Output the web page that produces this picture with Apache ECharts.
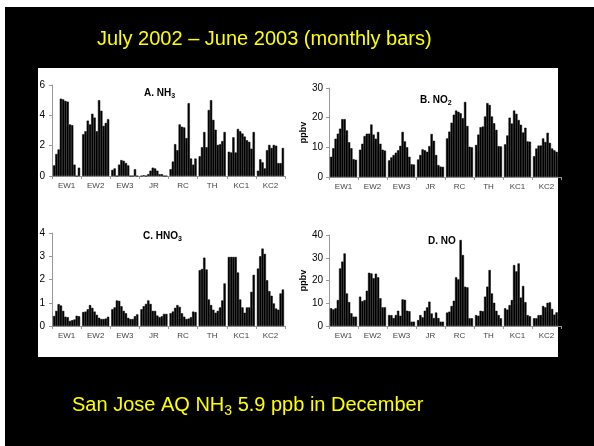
<!DOCTYPE html>
<html>
<head>
<meta charset="utf-8">
<script src="https://cdn.jsdelivr.net/npm/echarts@6/dist/echarts.min.js"></script>
<style>
html, body { margin: 0; padding: 0; background: #fff; }
#chart { width: 594px; height: 446px; }
</style>
</head>
<body>
<div id="chart"></div>
<script>
// sites on the x axis, 12 monthly bars each (Jul 2002 .. Jun 2003)
const sites = ['EW1', 'EW2', 'EW3', 'JR', 'RC', 'TH', 'KC1', 'KC2'];

// A. NH3 (ppbv)
const nh3 = [
  [0.7, 1.45, 1.75, 5.1, 5.05, 4.95, 4.9, 3.4, 3.35, 0.75, 0, 0.55],
  [2.75, 2.95, 3.65, 3.4, 4.1, 3.85, 2.95, 5.0, 4.3, 3.3, 3.5, 3.75],
  [0.4, 0.5, 0, 0.75, 1.05, 1.0, 0.85, 0.7, 0, 0, 0.45, 0],
  [0, 0.05, 0, 0.12, 0.35, 0.55, 0.5, 0.35, 0.12, 0.12, 0, 0],
  [0.45, 0.95, 2.1, 1.7, 3.4, 3.25, 3.2, 2.5, 4.8, 1.15, 0.75, 1.15],
  [1.3, 1.9, 2.9, 1.9, 4.35, 5.0, 3.7, 3.05, 2.05, 2.1, 2.3, 2.9],
  [1.6, 1.55, 2.55, 1.55, 3.1, 2.95, 2.8, 2.6, 2.35, 2.25, 1.8, 2.9],
  [0.35, 1.1, 0.9, 0.5, 1.7, 2.05, 1.85, 2.05, 2.0, 0.85, 0.85, 1.85]
];
// B. NO2 (ppbv)
const no2 = [
  [6.8, 9.7, 12.9, 14.6, 16.3, 19.5, 19.5, 15.7, 11.7, 9.7, 6.0, 5.8],
  [9.2, 11.2, 13.8, 14.6, 14.6, 17.7, 14.3, 12.9, 15.2, 11.2, 9.2, 8.9],
  [5.6, 6.6, 7.4, 8.2, 9.0, 10.5, 15.2, 12.0, 10.0, 6.8, 4.3, 4.2],
  [5.9, 7.4, 9.3, 9.0, 8.5, 10.4, 14.5, 12.2, 7.4, 4.0, 3.5, 3.4],
  [13, 15.3, 18.3, 21, 22.4, 22, 21.5, 19.8, 25.3, 17.2, 10.2, 10],
  [10.8, 14.3, 16.8, 17.0, 20.4, 24.9, 24.3, 20.4, 18.1, 15.9, 10.4, 10.3],
  [11, 14, 20, 18, 22.4, 21.3, 19.2, 17.6, 15, 16.6, 12, 11.9],
  [7, 9.6, 10.6, 10.6, 13, 11.8, 14.9, 11.5, 9.6, 9.0, 8.5, 7]
];
// C. HNO3 (ppbv)
const hno3 = [
  [0.43, 0.65, 0.94, 0.88, 0.65, 0.4, 0.38, 0.22, 0.25, 0.28, 0.44, 0.42],
  [0.6, 0.62, 0.72, 0.9, 0.78, 0.62, 0.48, 0.35, 0.3, 0.3, 0.32, 0.4],
  [0.72, 0.8, 1.1, 1.08, 0.85, 0.65, 0.55, 0.35, 0.3, 0.3, 0.42, 0.5],
  [0.72, 0.85, 0.95, 1.1, 0.95, 0.65, 0.65, 0.45, 0.38, 0.42, 0.52, 0.52],
  [0.55, 0.62, 0.78, 0.9, 0.82, 0.55, 0.4, 0.3, 0.32, 0.38, 0.62, 0.6],
  [2.4, 2.45, 2.94, 2.43, 1.14, 0.9, 0.7, 0.57, 0.65, 0.8, 1.1, 1.83],
  [2.97, 2.97, 2.97, 2.97, 2.3, 1.14, 0.8, 0.57, 0.8, 0.8, 1.47, 2.2],
  [2.47, 3.0, 3.33, 3.1, 1.97, 1.5, 1.3, 0.97, 0.75, 0.7, 1.4, 1.57]
];
// D. NO (ppbv)
const no = [
  [7.8, 7.3, 7.8, 11.4, 25.3, 28.3, 31.9, 14.3, 10.5, 5.6, 4.1, 4.1],
  [12.9, 10.9, 11.4, 15.5, 23.4, 23.1, 21.0, 23.0, 21.4, 12.2, 8.2, 8.2],
  [4.8, 4.8, 3.5, 4.8, 6.7, 4.5, 11.7, 11.5, 6.7, 6.5, 1.9, 1.9],
  [2.6, 4.8, 3.8, 6.7, 8.2, 10.7, 5.5, 3.5, 5.9, 3.5, 1.9, 1.9],
  [5.9, 6.3, 8.8, 11.1, 21.4, 20.5, 37.8, 31.2, 17.3, 17, 3.4, 3.4],
  [4.8, 4.5, 6.7, 6.5, 12.9, 17.3, 24.6, 14.3, 10.2, 6.7, 4.8, 3.4],
  [7.8, 7.2, 9.2, 11.4, 26.8, 24.0, 27.5, 12.5, 17.6, 10.5, 4.8, 4.3],
  [3.4, 3.4, 4.8, 4.8, 8.8, 8.2, 10.2, 10.4, 7.5, 5, 6, 3]
];

const yMax = [6, 30, 4, 40];
const yStep = [2, 10, 1, 10];
const panels = [nh3, no2, hno3, no];

const grids = [
  { left: 52, top: 85, width: 233, height: 91 },
  { left: 329, top: 88, width: 232, height: 89 },
  { left: 52, top: 233, width: 233, height: 93 },
  { left: 329, top: 235, width: 232, height: 91 }
];

const xAxes = grids.map((g, i) => ({
  type: 'category', gridIndex: i, data: sites,
  axisLine: { lineStyle: { color: '#999', width: 1 } },
  axisTick: { show: true, length: 3, lineStyle: { color: '#999' } },
  axisLabel: { fontSize: 8, color: '#444', margin: 6, fontFamily: 'Liberation Sans' }
}));

// left panels are cropped on the slide, so no axis name there
const yAxes = grids.map((g, i) => ({
  type: 'value', gridIndex: i, min: 0, max: yMax[i], interval: yStep[i],
  splitLine: { show: false },
  axisLine: { show: true, lineStyle: { color: '#999', width: 1 } },
  axisTick: { show: true, length: 3, lineStyle: { color: '#999' } },
  axisLabel: { fontSize: 10, color: '#000', margin: i % 2 ? 6 : 7, fontFamily: 'Liberation Sans' },
  name: i % 2 ? 'ppbv' : '', nameLocation: 'middle', nameGap: 19,
  nameTextStyle: { fontSize: 9, fontWeight: 'bold', color: '#000', fontFamily: 'Liberation Sans' }
}));

// one bar series per month, one bar per site within it
const series = [];
panels.forEach((rows, gi) => {
  for (let m = 0; m < 12; m++) {
    series.push({
      type: 'bar', xAxisIndex: gi, yAxisIndex: gi,
      data: rows.map(r => r[m]),
      itemStyle: { color: '#000', borderColor: '#000', borderWidth: 0.5 },
      barGap: '0%', barCategoryGap: '7%',
      silent: true
    });
  }
});

// text with a subscript: both parts top aligned, subscript pushed down by padding
function subText(x, y, main, sub, rest, size, subSize, subDrop, color, bold) {
  const w = bold ? 'bold ' : '';
  return {
    type: 'text', left: x, top: y, z: 100,
    style: {
      text: '{a|' + main + '}{s|' + sub + '}' + (rest ? '{a|' + rest + '}' : ''),
      rich: {
        a: { font: w + size + 'px "Liberation Sans"', fill: color, lineHeight: size + 2, verticalAlign: 'top' },
        s: { font: w + subSize + 'px "Liberation Sans"', fill: color, lineHeight: subSize + 1,
             padding: [subDrop, 0, 0, 0], verticalAlign: 'top' }
      }
    }
  };
}

const chart = echarts.init(document.getElementById('chart'), null, { renderer: 'canvas' });
chart.setOption({
  animation: false,
  backgroundColor: '#fff',
  graphic: [
    { type: 'rect', left: 5, top: 7, z: -10, shape: { width: 589, height: 439 }, style: { fill: '#000' } },
    { type: 'rect', left: 38, top: 68, z: -9, shape: { width: 520, height: 289 }, style: { fill: '#fff' } },
    { type: 'text', left: 97, top: 29, z: 100,
      style: { text: 'July 2002 \u2013 June 2003 (monthly bars)', font: '20px "Liberation Sans"', fill: '#ffff00' } },
    subText(72, 395, 'San Jose AQ NH', '3', ' 5.9 ppb in December', 20, 14, 9, '#ffff00', false),
    subText(144, 88, 'A. NH', '3', '', 10, 7, 5, '#000', true),
    subText(420, 95, 'B. NO', '2', '', 10, 7, 5, '#000', true),
    subText(143, 231, 'C. HNO', '3', '', 10, 7, 5, '#000', true),
    { type: 'text', left: 428, top: 236, z: 100,
      style: { text: 'D. NO', font: 'bold 10px "Liberation Sans"', fill: '#000' } }
  ],
  grid: grids,
  xAxis: xAxes,
  yAxis: yAxes,
  series: series
});
</script>
</body>
</html>
